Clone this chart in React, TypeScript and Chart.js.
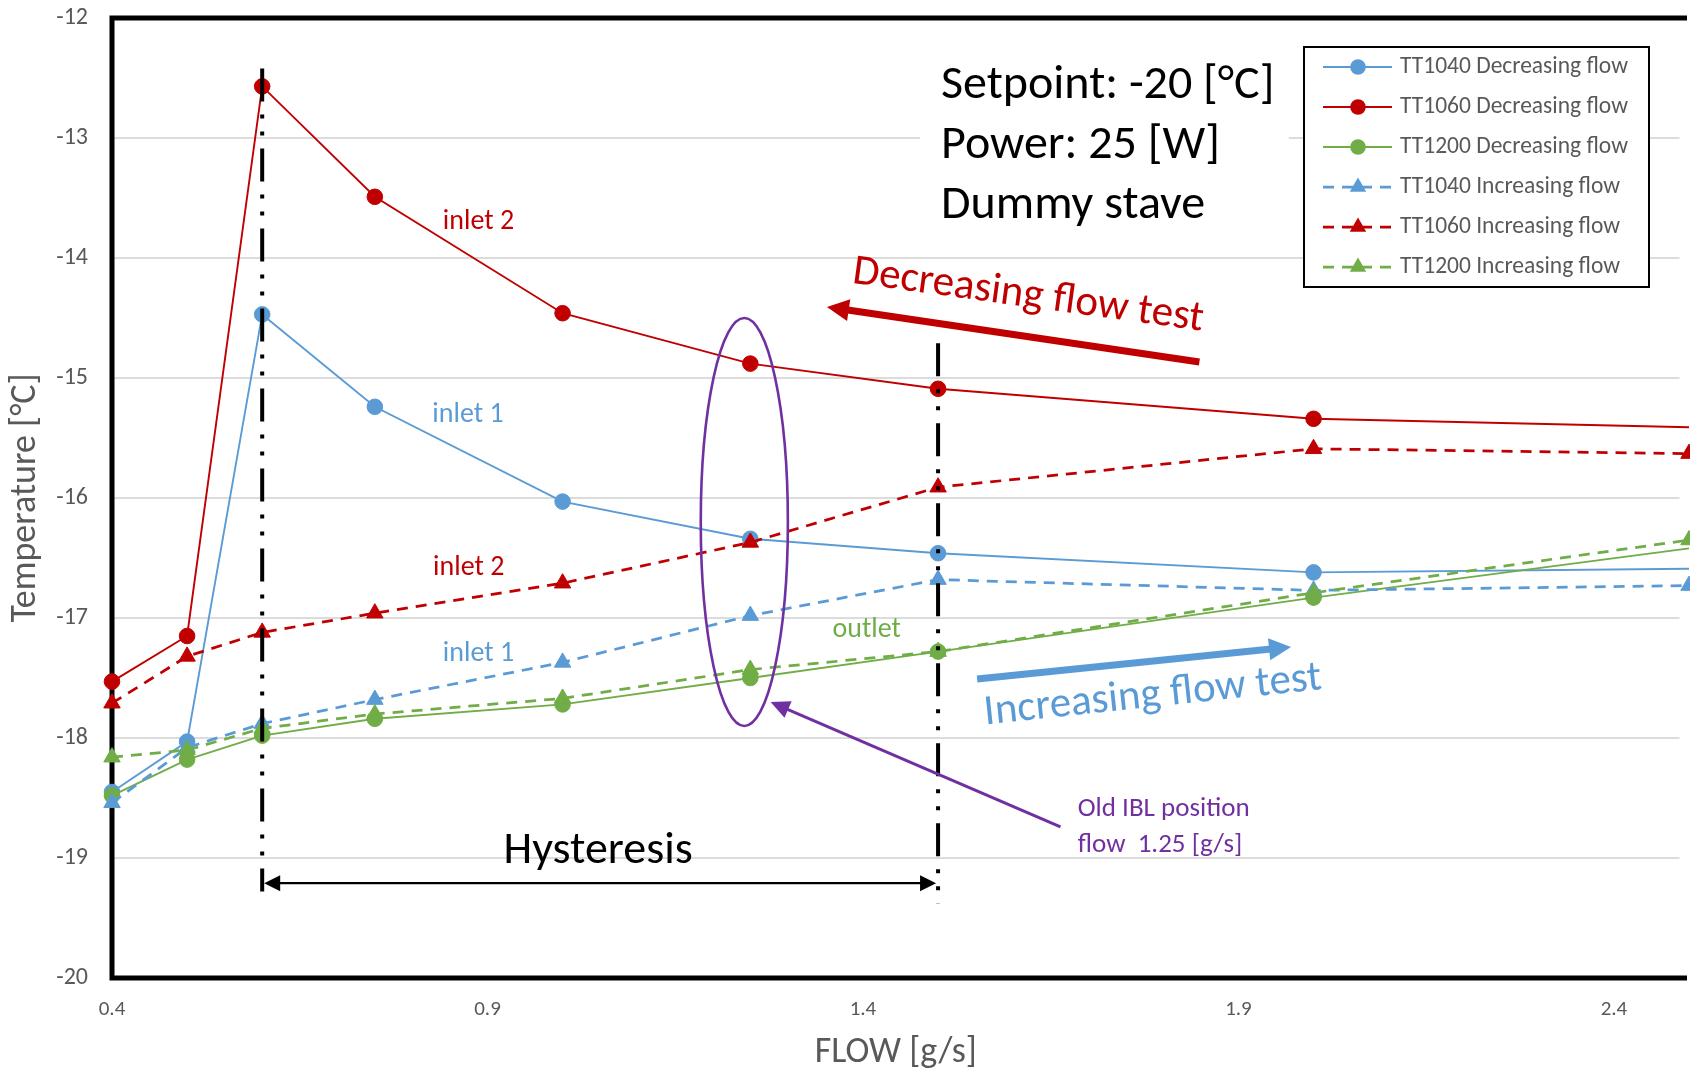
import React, { useEffect, useRef } from 'react';
import { Chart, registerables } from 'chart.js';

Chart.register(...registerables);

const FONT = 'Carlito, Calibri, Lato, "Noto Sans", sans-serif';
const BLUE = '#5B9BD5';
const RED = '#C00000';
const GREEN = '#70AD47';
const PURPLE = '#7030A0';
const GREY = '#595959';

// Coolant mass flow [g/s] at each measurement step
const flow = [0.4, 0.5, 0.6, 0.75, 1.0, 1.25, 1.5, 2.0, 2.5];

// Temperatures [°C] while the flow was being reduced
const tt1040Decreasing = [-18.45, -18.03, -14.47, -15.24, -16.03, -16.34, -16.46, -16.62, -16.59];
const tt1060Decreasing = [-17.53, -17.15, -12.57, -13.49, -14.46, -14.88, -15.09, -15.34, -15.41];
const tt1200Decreasing = [-18.48, -18.18, -17.98, -17.84, -17.72, -17.5, -17.28, -16.83, -16.42];

// Temperatures [°C] while the flow was being raised
const tt1040Increasing = [-18.54, -18.08, -17.88, -17.68, -17.37, -16.98, -16.68, -16.77, -16.73];
const tt1060Increasing = [-17.71, -17.32, -17.12, -16.96, -16.71, -16.37, -15.91, -15.59, -15.63];
const tt1200Increasing = [-18.16, -18.1, -17.92, -17.8, -17.67, -17.43, -17.28, -16.79, -16.35];

const xTickValues = [0.4, 0.9, 1.4, 1.9, 2.4];
const yTickValues = [-20, -19, -18, -17, -16, -15, -14, -13, -12];

// Flow limits of the hysteresis band and the old IBL operating point
const hysteresisFrom = 0.6;
const hysteresisTo = 1.5;
const oldIblFlow = 1.25;

const infoLines = ['Setpoint: -20 [°C]', 'Power: 25 [W]', 'Dummy stave'];

type SeriesDef = {
  label: string;
  values: number[];
  color: string;
  dashed: boolean;
};

const series: SeriesDef[] = [
  { label: 'TT1040 Decreasing flow', values: tt1040Decreasing, color: BLUE, dashed: false },
  { label: 'TT1060 Decreasing flow', values: tt1060Decreasing, color: RED, dashed: false },
  { label: 'TT1200 Decreasing flow', values: tt1200Decreasing, color: GREEN, dashed: false },
  { label: 'TT1040 Increasing flow', values: tt1040Increasing, color: BLUE, dashed: true },
  { label: 'TT1060 Increasing flow', values: tt1060Increasing, color: RED, dashed: true },
  { label: 'TT1200 Increasing flow', values: tt1200Increasing, color: GREEN, dashed: true },
];

const DASH = [11, 8];

function drawMarker(ctx: CanvasRenderingContext2D, style: string, x: number, y: number, r: number, color: string) {
  ctx.save();
  ctx.setLineDash([]);
  ctx.fillStyle = color;
  ctx.beginPath();
  if (style === 'triangle') {
    let a = 0;
    ctx.moveTo(x + Math.sin(a) * r, y - Math.cos(a) * r);
    a += (2 * Math.PI) / 3;
    ctx.lineTo(x + Math.sin(a) * r, y - Math.cos(a) * r);
    a += (2 * Math.PI) / 3;
    ctx.lineTo(x + Math.sin(a) * r, y - Math.cos(a) * r);
    ctx.closePath();
  } else {
    ctx.arc(x, y, r, 0, Math.PI * 2);
  }
  ctx.fill();
  ctx.restore();
}

function drawArrow(
  ctx: CanvasRenderingContext2D,
  x1: number, y1: number, x2: number, y2: number,
  width: number, color: string, headLen: number, headHalf: number,
  doubleHeaded = false,
) {
  const a = Math.atan2(y2 - y1, x2 - x1);
  const c = Math.cos(a);
  const s = Math.sin(a);
  ctx.save();
  ctx.setLineDash([]);
  ctx.strokeStyle = color;
  ctx.fillStyle = color;
  ctx.lineWidth = width;
  ctx.beginPath();
  const sx = doubleHeaded ? x1 + c * headLen * 0.8 : x1;
  const sy = doubleHeaded ? y1 + s * headLen * 0.8 : y1;
  ctx.moveTo(sx, sy);
  ctx.lineTo(x2 - c * headLen * 0.8, y2 - s * headLen * 0.8);
  ctx.stroke();
  const head = (tx: number, ty: number, dc: number, ds: number) => {
    ctx.beginPath();
    ctx.moveTo(tx, ty);
    ctx.lineTo(tx - dc * headLen + ds * headHalf, ty - ds * headLen - dc * headHalf);
    ctx.lineTo(tx - dc * headLen - ds * headHalf, ty - ds * headLen + dc * headHalf);
    ctx.closePath();
    ctx.fill();
  };
  head(x2, y2, c, s);
  if (doubleHeaded) head(x1, y1, -c, -s);
  ctx.restore();
}

function rotatedText(ctx: CanvasRenderingContext2D, text: string, x: number, y: number, deg: number, font: string, color: string) {
  ctx.save();
  ctx.translate(x, y);
  ctx.rotate((deg * Math.PI) / 180);
  ctx.font = font;
  ctx.fillStyle = color;
  ctx.textAlign = 'center';
  ctx.textBaseline = 'middle';
  ctx.fillText(text, 0, 0);
  ctx.restore();
}

// Thick frame on the left, top and bottom of the plot area
const framePlugin = {
  id: 'plotFrame',
  beforeDatasetsDraw(chart: any) {
    const { ctx, chartArea } = chart;
    const { left, top, right, bottom } = chartArea;
    ctx.save();
    ctx.strokeStyle = '#000';
    ctx.lineWidth = 5;
    ctx.lineCap = 'square';
    ctx.beginPath();
    ctx.moveTo(right + 5, top);
    ctx.lineTo(left, top);
    ctx.lineTo(left, bottom);
    ctx.lineTo(right + 5, bottom);
    ctx.stroke();
    ctx.restore();
  },
};

// Hysteresis markers, test direction arrows and notes
const notesPlugin = {
  id: 'staveNotes',
  afterDatasetsDraw(chart: any) {
    const { ctx } = chart;
    const xs = chart.scales.x;
    const ys = chart.scales.y;
    const px = (v: number) => xs.getPixelForValue(v);
    const py = (v: number) => ys.getPixelForValue(v);
    ctx.save();

    // operating conditions box
    const bx0 = px(1.476);
    const bx1 = px(1.967);
    const by0 = py(-12.22);
    const by1 = py(-13.85);
    ctx.fillStyle = '#ffffff';
    ctx.fillRect(bx0, by0, bx1 - bx0, by1 - by0);
    ctx.fillStyle = '#000000';
    ctx.font = `48px ${FONT}`;
    ctx.textAlign = 'left';
    ctx.textBaseline = 'alphabetic';
    infoLines.forEach((t, i) => ctx.fillText(t, px(hysteresisTo) + 3, py(-12.67 - i * 0.5)));

    // hysteresis limits
    ctx.strokeStyle = '#000';
    ctx.lineWidth = 4;
    ctx.lineCap = 'butt';
    ctx.setLineDash([33, 13, 4, 13, 4, 13]);
    ctx.beginPath();
    ctx.moveTo(px(hysteresisFrom), py(-12.42));
    ctx.lineTo(px(hysteresisFrom), py(-19.28));
    ctx.stroke();
    ctx.beginPath();
    ctx.moveTo(px(hysteresisTo), py(-14.71));
    ctx.lineTo(px(hysteresisTo), py(-19.38));
    ctx.stroke();
    ctx.setLineDash([]);

    drawArrow(ctx, px(hysteresisFrom) + 2, py(-19.21), px(hysteresisTo) - 2, py(-19.21), 2.2, '#000', 16, 8, true);
    ctx.fillStyle = '#000';
    ctx.font = `46px ${FONT}`;
    ctx.textAlign = 'center';
    ctx.textBaseline = 'alphabetic';
    ctx.fillText('Hysteresis', px((hysteresisFrom + hysteresisTo) / 2) - 2, py(-19.04));

    // old IBL operating point
    const ex = px(oldIblFlow - 0.008);
    const ey = py(-16.2);
    ctx.strokeStyle = PURPLE;
    ctx.lineWidth = 2.6;
    ctx.beginPath();
    ctx.ellipse(ex, ey, px(oldIblFlow + 0.05) - px(oldIblFlow - 0.008), py(-16.2) - py(-14.5), 0, 0, Math.PI * 2);
    ctx.stroke();
    drawArrow(ctx, px(1.663), py(-18.74), px(1.277), py(-17.7), 3, PURPLE, 19, 9);
    ctx.fillStyle = PURPLE;
    ctx.font = `27px ${FONT}`;
    ctx.textAlign = 'left';
    ctx.fillText('Old IBL position', px(1.686), py(-18.65));
    ctx.fillText('flow  1.25 [g/s]', px(1.686), py(-18.95));

    // sweep directions
    drawArrow(ctx, px(1.848), py(-14.867), px(1.352), py(-14.408), 7, RED, 22, 11);
    rotatedText(ctx, 'Decreasing flow test', px(1.62), py(-14.317), 7.8, `43px ${FONT}`, RED);
    drawArrow(ctx, px(1.552), py(-17.508), px(1.97), py(-17.242), 7, BLUE, 22, 11);
    rotatedText(ctx, 'Increasing flow test', px(1.786), py(-17.65), -6, `43px ${FONT}`, BLUE);

    // sensor position labels
    const tags: [string, number, number, string][] = [
      ['inlet 2', 0.888, -13.7, RED],
      ['inlet 1', 0.874, -15.31, BLUE],
      ['inlet 2', 0.875, -16.58, RED],
      ['inlet 1', 0.888, -17.3, BLUE],
      ['outlet', 1.405, -17.1, GREEN],
    ];
    ctx.font = `28px ${FONT}`;
    ctx.textAlign = 'center';
    ctx.textBaseline = 'middle';
    tags.forEach(([t, x, y, c]) => {
      ctx.fillStyle = c;
      ctx.fillText(t, px(x), py(y));
    });
    ctx.restore();
  },
};

// Boxed legend in the upper right corner of the plot
const legendPlugin = {
  id: 'boxLegend',
  afterDatasetsDraw(chart: any) {
    const { ctx, chartArea } = chart;
    const left = chartArea.left + 1192;
    const top = chartArea.top + 29;
    const w = 345;
    const h = 240;
    ctx.save();
    ctx.fillStyle = '#fff';
    ctx.fillRect(left, top, w, h);
    ctx.lineWidth = 2;
    ctx.strokeStyle = '#000';
    ctx.strokeRect(left, top, w, h);
    chart.data.datasets.forEach((ds: any, i: number) => {
      const y = top + 20 + i * 40;
      ctx.save();
      ctx.strokeStyle = ds.borderColor;
      ctx.lineWidth = ds.borderWidth;
      ctx.setLineDash(ds.borderDash || []);
      ctx.beginPath();
      ctx.moveTo(left + 19, y);
      ctx.lineTo(left + 88, y);
      ctx.stroke();
      ctx.restore();
      drawMarker(ctx, ds.pointStyle, left + 54, y, ds.pointRadius, ds.borderColor);
      ctx.fillStyle = GREY;
      ctx.font = `23.5px ${FONT}`;
      ctx.textAlign = 'left';
      ctx.textBaseline = 'middle';
      ctx.fillText(ds.label, left + 96, y);
    });
    ctx.restore();
  },
};

export default function App() {
  const canvasRef = useRef<HTMLCanvasElement>(null);

  useEffect(() => {
    const canvas = canvasRef.current;
    if (!canvas) return;
    const datasets = series.map((s, i) => ({
      label: s.label,
      data: flow.map((x, k) => ({ x, y: s.values[k] })),
      borderColor: s.color,
      backgroundColor: s.color,
      borderWidth: s.dashed ? 2.75 : 1.9,
      borderDash: s.dashed ? DASH : [],
      pointStyle: s.dashed ? 'triangle' : 'circle',
      pointRadius: s.dashed ? 9.5 : 7.8,
      pointBorderWidth: 1,
      pointBackgroundColor: s.color,
      pointBorderColor: s.color,
      tension: 0,
      clip: false as any,
      order: series.length - i,
    }));

    const chart = new Chart(canvas, {
      type: 'line',
      data: { datasets },
      plugins: [framePlugin, notesPlugin, legendPlugin],
      options: {
        responsive: false,
        animation: false,
        devicePixelRatio: 1,
        events: [],
        layout: { padding: { top: 18, right: 0, bottom: 0, left: 0 } },
        plugins: {
          legend: { display: false },
          tooltip: { enabled: false },
        },
        scales: {
          x: {
            type: 'linear',
            min: 0.4,
            max: 0.4 + 1578 / 756,
            afterBuildTicks: (s: any) => {
              s.ticks = xTickValues.map((v) => ({ value: v }));
            },
            afterFit: (s: any) => {
              s.height = 98;
              s.paddingLeft = 0;
              s.paddingRight = 0;
            },
            grid: { display: false, drawTicks: false },
            border: { display: false },
            ticks: {
              color: GREY,
              font: { family: FONT, size: 21 },
              padding: 19,
              maxRotation: 0,
              autoSkip: false,
              callback: (v: any) => String(v),
            },
            title: {
              display: true,
              text: 'FLOW [g/s]',
              color: GREY,
              font: { family: FONT, size: 36 },
              padding: { top: 0, bottom: 1 },
            },
          },
          y: {
            type: 'linear',
            min: -20,
            max: -12,
            afterBuildTicks: (s: any) => {
              s.ticks = yTickValues.map((v) => ({ value: v }));
            },
            afterFit: (s: any) => {
              s.width = 112;
              s.paddingTop = 0;
              s.paddingBottom = 0;
            },
            grid: {
              drawTicks: false,
              lineWidth: 2,
              color: (c: any) =>
                c.tick && (c.tick.value === -20 || c.tick.value === -12) ? 'rgba(0,0,0,0)' : '#DCDCDC',
            },
            border: { display: false },
            ticks: {
              color: GREY,
              font: { family: FONT, size: 24 },
              padding: 24,
              autoSkip: false,
              callback: (v: any) => String(v),
            },
            title: {
              display: true,
              text: 'Temperature [°C]',
              color: GREY,
              font: { family: FONT, size: 36 },
              padding: { top: 4, bottom: 0 },
            },
          },
        },
      },
    } as any);

    return () => chart.destroy();
  }, []);

  return (
    <div style={{ position: 'absolute', left: 0, top: 0, width: 1690, height: 1076, background: '#ffffff' }}>
      <canvas ref={canvasRef} width={1690} height={1076} style={{ display: 'block' }} />
    </div>
  );
}
